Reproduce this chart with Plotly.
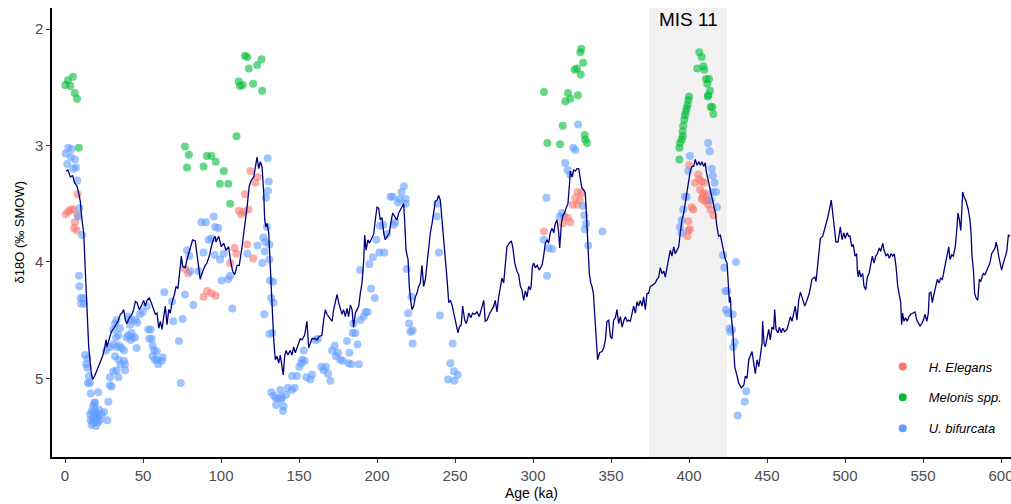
import plotly.graph_objects as go

# ---------------- data ----------------
line_age = [0.6,1.9,3.4,4.9,6.2,7.7,8.8,9.8,10.9,12.0,13.0,14.1,15.2,16.9,17.7,19.0,20.5,22.6,24.1,25.4,26.3,26.9,28.0,29.7,31.2,32.7,34.0,35.5,36.5,37.6,38.7,39.7,41.2,42.9,44.0,45.1,46.2,47.6,48.9,50.4,51.5,52.6,54.0,55.3,56.8,57.9,59.0,60.1,61.1,62.2,63.3,64.3,65.4,66.5,67.5,68.6,70.3,71.2,72.4,73.9,74.6,75.4,77.1,78.2,79.3,80.3,81.8,83.5,84.6,85.7,86.7,87.8,89.5,91.0,92.5,93.8,95.3,96.3,96.8,98.5,100.2,101.7,103.2,104.9,106.0,107.5,108.8,110.3,111.7,113.5,115.2,116.7,118.1,119.4,121.0,122.0,123.1,124.2,125.2,126.3,127.4,128.0,128.8,129.5,130.6,131.6,132.7,133.8,134.8,135.9,137.0,138.0,139.1,139.9,140.8,141.7,142.9,144.4,145.5,146.6,147.6,149.4,150.8,151.9,153.6,155.1,156.2,157.2,158.3,160.1,161.5,163.0,164.7,165.8,166.9,167.9,169.4,171.2,172.2,173.3,174.4,175.4,176.5,177.6,178.6,179.7,180.8,181.8,182.9,184.0,185.0,186.1,187.2,188.3,189.3,190.4,191.5,192.1,193.0,194.2,195.1,196.3,197.9,198.9,200.0,201.1,202.1,203.2,204.3,205.3,206.4,207.9,209.2,210.1,211.3,212.8,213.9,215.6,217.1,217.7,218.6,219.9,220.7,221.6,222.4,223.5,224.6,225.6,226.7,227.8,228.8,229.9,231.0,232.1,233.1,234.2,235.3,236.3,237.4,238.5,239.5,240.6,241.7,242.7,243.8,244.9,246.0,247.0,248.1,249.1,250.2,251.3,251.9,252.8,254.0,254.9,256.2,257.3,258.8,260.1,261.3,262.6,264.1,265.6,266.9,268.4,269.4,270.5,272.0,273.3,274.8,275.8,276.9,278.0,279.0,280.1,281.2,282.3,283.3,284.8,286.1,287.0,288.3,289.7,290.8,291.9,292.9,294.0,295.1,296.2,297.2,298.3,298.8,299.6,300.4,301.5,302.6,304.0,305.8,306.8,307.9,309.0,310.0,311.1,312.2,313.3,314.3,315.4,316.5,317.1,318.2,319.2,320.3,321.4,322.4,323.3,323.9,325.0,326.1,327.1,328.2,329.3,330.3,331.4,332.5,333.5,334.2,335.3,336.1,337.0,337.8,338.7,339.5,340.4,341.4,342.7,344.2,345.3,346.4,347.4,348.5,349.6,350.6,351.7,352.8,353.8,354.9,356.0,357.1,358.1,359.2,360.3,361.3,362.4,363.5,364.5,365.6,366.7,367.7,368.8,369.9,370.9,372.0,373.1,374.1,375.2,376.7,378.4,379.5,380.6,381.6,382.7,383.8,384.8,385.9,387.0,388.0,389.1,390.2,391.2,392.3,393.4,394.4,395.5,396.6,397.6,398.7,399.8,400.8,401.9,403.0,404.0,405.1,406.2,407.3,408.3,409.4,410.5,410.9,412.6,413.7,415.2,416.9,417.9,419.0,420.1,421.2,422.2,423.3,424.4,425.0,425.9,426.5,427.1,428.0,428.7,429.3,430.8,431.8,433.5,435.1,436.1,437.2,438.3,439.3,440.4,441.5,442.5,443.6,444.7,445.7,446.8,447.2,448.1,448.9,450.0,451.1,452.1,453.2,454.3,454.9,455.8,457.1,457.9,459.2,460.1,461.3,462.8,463.9,465.0,466.0,467.1,468.1,469.2,470.3,471.4,472.4,474.2,475.6,477.1,478.8,480.6,481.4,482.7,484.2,485.7,487.4,489.1,491.2,492.8,494.2,495.5,497.0,498.1,499.2,500.2,501.3,502.4,503.2,504.3,505.3,506.4,507.5,507.9,508.5,509.2,510.1,511.3,512.2,513.3,514.3,515.4,516.5,517.5,518.6,519.7,520.7,522.0,522.9,524.2,525.2,526.3,527.4,528.4,529.5,530.6,531.6,532.7,533.8,534.8,535.7,536.3,536.9,537.8,538.9,539.9,541.0,542.1,543.4,544.9,546.0,547.0,548.1,549.2,550.2,551.3,552.4,553.4,554.0,555.0,556.0,557.1,558.2,559.2,560.3,561.3,562.4,563.5,564.5,565.6,566.5,567.3,568.4,569.4,570.7,571.6,572.4,573.3,574.2,574.8,575.4,576.3,577.6,579.0,580.1,580.8,581.4,582.3,583.1,584.0,585.1,586.1,587.0,587.8,588.7,589.7,590.8,591.9,592.9,594.0,595.1,596.2,596.8,597.6,598.5,599.4,600.4,601.5,602.6,603.7,604.7,605.8]
line_d18o = [3.22,3.21,3.27,3.26,3.32,3.35,3.41,3.48,3.64,3.75,4.07,4.44,4.73,4.96,5.01,4.98,4.93,4.87,4.81,4.74,4.67,4.73,4.67,4.60,4.57,4.54,4.51,4.45,4.44,4.41,4.50,4.53,4.48,4.45,4.41,4.34,4.35,4.41,4.38,4.33,4.38,4.33,4.31,4.35,4.41,4.45,4.44,4.57,4.51,4.58,4.47,4.38,4.54,4.41,4.44,4.35,4.27,4.21,4.23,4.04,3.95,4.04,4.05,3.98,3.93,3.87,3.81,3.82,3.93,4.04,4.15,4.10,4.04,4.01,3.95,3.87,3.80,3.78,3.83,3.78,3.87,3.84,3.90,3.87,3.98,4.08,4.11,4.03,4.03,3.87,3.70,3.53,3.35,3.30,3.27,3.18,3.10,3.20,3.14,3.18,3.41,3.64,3.70,3.67,3.75,4.04,4.38,4.67,4.84,4.81,4.87,4.80,4.90,4.97,4.81,4.76,4.80,4.76,4.80,4.73,4.78,4.71,4.66,4.67,4.63,4.51,4.74,4.70,4.66,4.66,4.67,4.64,4.63,4.50,4.41,4.45,4.48,4.51,4.41,4.33,4.28,4.35,4.41,4.45,4.41,4.47,4.40,4.47,4.37,4.41,4.56,4.44,4.41,4.38,4.27,4.18,3.98,3.77,3.90,3.81,3.84,3.80,3.76,3.64,3.53,3.54,3.64,3.62,3.75,3.81,3.78,3.75,3.64,3.58,3.61,3.64,3.58,3.54,3.50,3.64,3.90,3.98,4.21,4.33,4.41,4.38,4.30,4.27,4.21,4.18,4.03,4.21,4.15,4.01,3.87,3.75,3.67,3.58,3.48,3.47,3.43,3.47,3.64,3.75,3.98,4.15,4.35,4.33,4.37,4.44,4.50,4.56,4.61,4.56,4.54,4.38,4.50,4.53,4.44,4.48,4.44,4.45,4.43,4.47,4.41,4.33,4.51,4.50,4.45,4.41,4.38,4.33,4.43,4.30,4.21,4.14,4.18,3.98,3.87,3.84,3.82,3.87,4.01,4.08,4.11,4.21,4.24,4.33,4.25,4.30,4.21,4.24,4.21,4.04,4.01,4.05,4.03,4.07,4.03,3.95,3.84,3.81,3.84,3.75,3.71,3.75,3.67,3.64,3.75,3.88,3.67,3.60,3.58,3.53,3.50,3.35,3.22,3.27,3.21,3.22,3.20,3.20,3.30,3.37,3.38,3.41,3.58,3.87,4.10,4.18,4.21,4.27,4.44,4.64,4.84,4.78,4.77,4.74,4.67,4.51,4.50,4.64,4.66,4.50,4.48,4.41,4.53,4.47,4.56,4.51,4.47,4.51,4.50,4.51,4.44,4.38,4.44,4.34,4.38,4.33,4.38,4.30,4.41,4.27,4.27,4.21,4.20,4.18,4.15,4.13,4.05,4.10,4.08,4.13,4.05,3.98,3.90,3.95,3.87,3.93,3.90,3.87,3.75,3.64,3.58,3.50,3.41,3.32,3.22,3.18,3.18,3.12,3.17,3.14,3.17,3.14,3.18,3.15,3.21,3.32,3.38,3.47,3.58,3.70,3.78,3.77,3.84,3.91,3.98,4.01,4.18,4.35,4.30,4.47,4.58,4.73,4.90,4.98,5.04,5.08,5.06,4.98,5.00,4.84,4.81,4.77,4.87,4.96,4.84,4.90,4.81,4.70,4.51,4.70,4.73,4.64,4.58,4.67,4.56,4.58,4.41,4.58,4.61,4.56,4.61,4.57,4.60,4.58,4.53,4.47,4.51,4.43,4.38,4.50,4.33,4.26,4.30,4.38,4.33,4.27,4.15,4.13,4.17,4.01,3.80,3.78,3.70,3.61,3.47,3.64,3.83,3.83,3.70,3.81,3.75,3.80,3.75,3.78,3.78,3.87,3.85,3.95,3.93,4.07,4.13,4.07,4.13,4.10,4.21,4.24,4.13,4.10,4.00,3.95,4.01,3.95,3.93,3.88,3.91,3.84,3.91,3.95,3.93,3.97,3.93,3.95,3.93,4.04,4.21,4.28,4.35,4.54,4.44,4.51,4.48,4.51,4.47,4.45,4.44,4.43,4.50,4.53,4.55,4.53,4.50,4.45,4.51,4.44,4.27,4.26,4.35,4.27,4.21,4.15,4.18,4.14,4.15,4.07,4.01,3.90,3.87,3.98,3.94,3.95,3.87,3.73,3.58,3.64,3.73,3.58,3.40,3.44,3.48,3.55,3.64,3.75,3.95,4.07,4.27,4.31,4.33,4.15,4.17,4.13,4.10,4.11,4.08,4.04,4.01,3.93,3.91,3.88,3.83,3.87,3.95,4.00,4.07,4.01,3.95,3.91,3.77,3.78]

elegans_age = [0.4,2.1,3.6,5.3,7.9,6.4,5.8,7.5,8.1,77.0,79.0,88.8,91.1,93.9,96.5,105.9,108.7,109.8,120.6,116.8,111.5,112.9,114.5,117.6,115.3,118.9,122.0,123.5,307.0,319.0,320.1,322.4,323.9,325.4,328.2,327.1,330.0,328.6,331.0,400.2,405.9,403.8,408.1,406.5,409.6,407.1,409.2,411.3,408.1,410.3,411.7,412.4,413.9,415.6,401.7,402.7,399.6,399.6,400.6,398.9,408.8]
elegans_d18o = [3.59,3.57,3.55,3.55,3.60,3.66,3.71,3.73,3.42,4.06,4.10,4.30,4.25,4.27,4.29,4.01,3.88,3.93,3.97,3.85,3.56,3.59,3.57,3.55,3.42,3.22,3.32,3.27,3.74,3.67,3.61,3.62,3.66,3.51,3.51,3.45,3.47,3.40,3.41,3.17,3.25,3.32,3.31,3.29,3.32,3.38,3.41,3.42,3.46,3.48,3.47,3.51,3.55,3.60,3.53,3.55,3.65,3.73,3.72,3.78,3.44]

melonis_age = [0.2,1.9,3.4,5.1,6.2,7.7,8.8,76.9,79.4,78.2,88.8,90.9,93.9,96.6,99.3,101.8,104.7,105.9,109.9,115.3,116.8,117.8,111.3,112.2,113.9,120.6,123.2,126.0,126.4,331.0,330.3,332.1,326.7,328.2,330.6,307.0,322.4,320.7,323.9,328.8,319.0,333.1,333.5,334.6,309.2,317.3,393.8,393.8,394.2,395.3,395.9,396.0,396.3,397.0,397.4,398.0,398.5,399.1,399.6,400.0,406.6,408.1,405.3,409.2,409.8,410.9,412.8,411.7,413.5,412.4,412.0,413.9,414.9,415.6]
melonis_d18o = [2.48,2.44,2.49,2.41,2.55,2.60,3.02,3.01,3.08,3.19,3.18,3.09,3.09,3.14,3.33,3.22,3.33,3.50,2.92,2.23,2.24,2.34,2.45,2.49,2.48,2.47,2.31,2.26,2.53,2.17,2.20,2.29,2.35,2.34,2.39,2.54,2.55,2.62,2.60,2.57,2.83,2.91,2.95,2.98,2.98,2.99,3.12,3.02,2.98,2.95,2.88,2.92,2.83,2.78,2.74,2.71,2.68,2.65,2.61,2.58,2.20,2.24,2.34,2.32,2.35,2.43,2.43,2.47,2.53,2.57,2.58,2.67,2.67,2.73]

bifurcata_age = [0.4,1.5,2.1,3.8,4.3,5.3,6.4,7.1,7.9,8.5,9.2,10.9,9.0,9.2,10.0,11.7,10.3,12.2,12.8,14.3,13.5,14.3,15.4,14.7,16.0,16.5,19.2,21.3,16.0,17.1,18.1,19.2,20.3,17.7,19.2,20.7,18.1,19.9,17.1,21.3,22.4,23.5,25.0,27.1,27.8,18.6,16.5,22.0,18.8,20.9,28.8,29.9,28.8,31.0,33.1,34.2,35.7,38.5,38.5,37.8,34.2,32.1,26.3,28.8,31.0,33.1,34.8,36.3,37.8,32.7,34.2,31.0,32.1,33.1,35.3,39.5,40.6,42.1,42.7,43.4,44.9,45.9,42.1,40.6,41.7,44.9,46.4,48.1,49.8,52.4,53.4,54.0,54.9,55.6,56.2,57.1,58.8,57.7,59.8,62.0,62.6,56.2,58.8,63.7,69.4,68.6,75.4,73.1,74.2,76.9,82.3,80.5,78.2,79.7,85.7,87.4,90.4,92.1,95.3,96.3,95.9,88.8,93.8,98.3,99.4,100.4,101.7,104.6,105.9,107.3,116.9,123.4,126.5,127.1,128.4,128.0,129.9,130.6,130.1,128.8,129.5,131.0,131.0,131.5,133.4,132.2,133.7,127.7,131.1,132.9,132.2,133.8,135.3,138.0,137.0,139.1,141.7,142.9,145.5,147.2,135.3,140.1,139.7,138.7,145.5,148.7,150.2,151.5,151.9,153.6,153.0,154.7,157.3,158.3,160.5,162.2,164.3,165.8,167.3,168.6,170.1,171.2,172.9,175.0,173.7,176.5,178.0,180.8,182.3,183.5,181.8,184.4,186.1,187.6,188.3,184.8,189.3,191.5,192.7,194.0,196.2,198.6,189.2,195.1,197.3,199.6,201.5,204.6,201.9,203.9,206.5,208.6,210.1,211.6,210.6,213.5,214.7,215.7,217.2,218.4,218.4,219.0,222.1,219.9,220.6,221.4,222.8,222.8,238.3,238.6,239.7,240.3,248.5,247.1,249.3,251.8,245.6,249.6,306.9,308.6,309.0,310.0,312.2,317.1,318.6,320.6,322.2,323.9,325.8,327.2,328.9,332.1,332.9,334.0,333.2,335.4,344.5,400.6,399.6,397.4,398.5,396.3,395.3,394.2,395.3,412.3,413.2,414.6,415.2,416.5,417.3,415.2,417.9,413.9,421.8,422.6,423.3,424.6,423.7,425.0,428.0,425.9,427.6,426.5,429.3,428.2,430.1,436.7,435.7,431.2]
bifurcata_d18o = [3.07,3.16,3.02,3.10,3.03,3.20,3.12,3.19,3.30,3.61,3.54,3.77,4.12,4.21,4.31,4.31,4.36,4.36,4.80,4.83,4.88,4.91,4.98,5.04,5.04,5.13,5.21,5.12,5.31,5.28,5.24,5.27,5.30,5.34,5.34,5.36,5.38,5.41,5.40,5.33,5.36,5.31,5.29,5.36,5.20,5.30,5.36,5.27,5.21,5.38,4.99,5.07,5.06,4.94,4.93,4.99,4.88,4.93,4.88,4.85,4.84,4.81,4.76,4.73,4.71,4.73,4.72,4.74,4.76,4.65,4.63,4.58,4.53,4.50,4.57,4.65,4.63,4.67,4.61,4.65,4.65,4.74,4.50,4.47,4.54,4.50,4.52,4.45,4.43,4.38,4.58,4.66,4.58,4.66,4.72,4.76,4.77,4.84,4.88,4.85,4.82,4.81,4.84,4.26,4.51,4.34,4.49,4.68,5.04,4.28,4.37,4.08,3.90,3.95,4.08,3.66,3.66,3.81,3.61,3.70,3.94,3.92,3.80,3.71,3.98,4.16,3.93,4.15,4.12,4.40,3.93,3.86,4.01,3.79,3.83,3.91,3.11,3.31,3.39,3.45,3.70,3.85,3.98,4.16,4.17,4.31,4.35,4.45,4.62,4.61,5.12,5.15,5.17,5.10,5.17,5.16,5.14,5.08,5.10,5.08,5.23,5.24,5.28,5.18,4.98,4.98,4.90,4.87,4.84,4.85,4.76,4.99,5.01,4.97,4.67,4.66,4.90,4.93,4.90,4.96,5.02,4.76,4.72,4.78,4.81,4.84,4.85,4.68,4.78,4.88,4.87,4.61,4.61,4.71,4.88,4.53,4.50,4.47,4.43,4.43,4.23,4.31,4.07,4.02,3.96,3.81,3.92,3.92,3.69,3.68,3.76,3.44,3.44,3.66,3.68,3.49,3.46,3.40,3.35,3.46,3.50,4.06,4.30,4.44,4.53,4.60,4.59,4.70,3.61,3.50,3.92,4.46,4.70,4.87,4.94,4.97,5.01,5.02,3.81,3.45,4.12,3.88,3.89,3.61,3.58,3.15,3.21,3.25,3.02,3.04,2.82,3.52,3.60,3.67,3.72,3.86,3.74,3.09,3.22,3.44,3.44,3.55,3.64,3.70,3.75,2.98,3.05,3.20,3.26,3.32,3.40,3.40,3.53,3.47,3.94,4.05,4.25,4.25,4.41,4.44,4.45,4.57,4.58,4.60,4.69,4.73,4.00,5.11,5.20,5.32]

x_ticks = [0, 50, 100, 150, 200, 250, 300, 350, 400, 450, 500, 550, 600]
y_ticks = [2, 3, 4, 5]
mis11_start, mis11_end = 374.4, 424.4

species = [
    ("H. Elegans", elegans_age, elegans_d18o, "#F8766D"),
    ("Melonis spp.", melonis_age, melonis_d18o, "#00BA38"),
    ("U. bifurcata", bifurcata_age, bifurcata_d18o, "#619CFF"),
]

# ---------------- figure ----------------
fig = go.Figure()

fig.add_shape(type="rect", xref="x", yref="paper", x0=mis11_start, x1=mis11_end,
              y0=0, y1=1, fillcolor="#F2F2F2", line_width=0, layer="below")

for name, ages, vals, col in species:
    fig.add_trace(go.Scatter(x=ages, y=vals, mode="markers", name=name,
                             showlegend=False,
                             marker=dict(color=col, size=8, opacity=0.6,
                                         line=dict(width=0))))

fig.add_trace(go.Scatter(x=line_age, y=line_d18o, mode="lines", showlegend=False,
                         line=dict(color="#00007F", width=1.3)))

for i, (name, ages, vals, col) in enumerate(species):
    fig.add_trace(go.Scatter(x=[None], y=[None], mode="markers", name=name,
                             legendgroup="g%d" % i,
                             marker=dict(color=col, size=8)))

axis_font = dict(family="Arial, Liberation Sans, sans-serif", size=15, color="#4D4D4D")

fig.update_layout(
    width=1011, height=504,
    margin=dict(l=52, r=0, t=8, b=47, autoexpand=False),
    plot_bgcolor="white", paper_bgcolor="white",
    font=dict(family="Arial, Liberation Sans, sans-serif"),
    xaxis=dict(range=[-8.33, 606.4], tickvals=x_ticks, showgrid=False, zeroline=False,
               showline=True, linecolor="black", linewidth=1.5,
               ticks="outside", ticklen=4, tickcolor="#333333", tickwidth=1,
               tickfont=axis_font, ticklabeloverflow="allow", automargin=False),
    yaxis=dict(range=[5.6755, 1.8197], tickvals=y_ticks, showgrid=False, zeroline=False,
               showline=True, linecolor="black", linewidth=1.5,
               ticks="outside", ticklen=4, tickcolor="#333333", tickwidth=1,
               tickfont=axis_font, automargin=False),
    legend=dict(x=0.86, xanchor="left", y=0.235, yanchor="top",
                bgcolor="rgba(0,0,0,0)", traceorder="grouped", tracegroupgap=11,
                itemwidth=42,
                font=dict(family="Arial, Liberation Sans, sans-serif", size=13,
                          color="black", style="italic")),
    annotations=[
        dict(text="MIS 11", xref="x", yref="paper", x=(mis11_start + mis11_end) / 2,
             y=0.9755, xanchor="center", yanchor="middle", showarrow=False,
             font=dict(size=19, color="black")),
        dict(text="Age (ka)", xref="paper", yref="paper", x=0.5, y=-0.08,
             xanchor="center", yanchor="middle", showarrow=False,
             font=dict(size=14, color="black")),
        dict(text="δ18O (‰ SMOW)", xref="paper", yref="paper", x=-0.0344, y=0.5,
             xanchor="center", yanchor="middle", textangle=-90, showarrow=False,
             font=dict(size=13, color="black")),
    ],
)

fig.write_html("out.html")
